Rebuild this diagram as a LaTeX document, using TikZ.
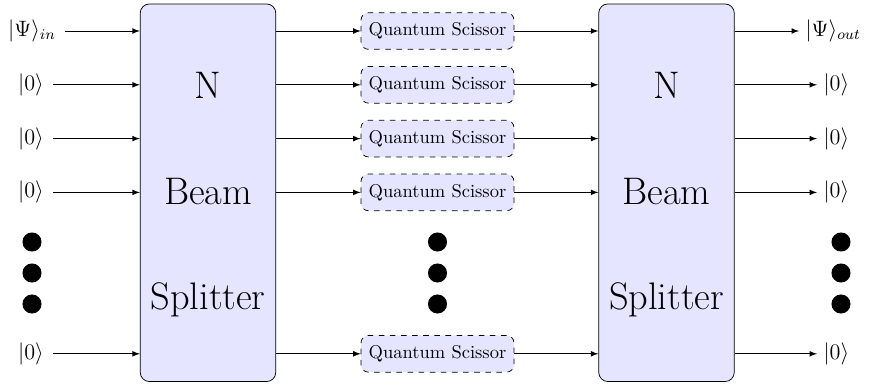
\documentclass[tikz,border=0pt]{standalone}
\usetikzlibrary{arrows.meta}
\begin{document}
\begin{tikzpicture}[x=0.54pt,y=-0.54pt,
  bsbox/.style={draw, fill=blue!10, rounded corners=5pt, minimum width=73.2pt, minimum height=203.9pt, inner sep=0pt},
  qsbox/.style={draw, dashed, fill=blue!10, rounded corners=4pt, minimum width=82.6pt, minimum height=19.8pt, inner sep=0pt, font=\normalsize},
  ket/.style={font=\large},
  bigtxt/.style={font=\huge, inner sep=0pt},
  dot/.style={circle, fill=black, minimum size=10.3pt, inner sep=0pt},
  conn/.style={-latex, shorten <=1.5pt}]
\useasboundingbox (0,0) rectangle (870,385);

% beam splitters
\node[bsbox] (bs1) at (208,192.75) {};
\node[bsbox] (bs2) at (666.5,192.75) {};
\node[bigtxt] (n1) at (208,85) {N};
\node[bigtxt] (b1) at (208,192) {Beam};
\node[bigtxt] (s1) at (208,300) {Splitter};
\node[bigtxt] (n2) at (666.5,85) {N};
\node[bigtxt] (b2) at (666.5,192) {Beam};
\node[bigtxt] (s2) at (666.5,300) {Splitter};

% input labels
\node[ket] (i1) at (32,31) {$|\Psi\rangle_{in}$};
\node[ket] (i2) at (31,84.8) {$|0\rangle$};
\node[ket] (i3) at (31,138.6) {$|0\rangle$};
\node[ket] (i4) at (31,192.4) {$|0\rangle$};
\node[ket] (i7) at (31,353.8) {$|0\rangle$};

% quantum scissors
\node[qsbox] (q1) at (437.5,31) {Quantum Scissor};
\node[qsbox] (q2) at (437.5,84.8) {Quantum Scissor};
\node[qsbox] (q3) at (437.5,138.6) {Quantum Scissor};
\node[qsbox] (q4) at (437.5,192.4) {Quantum Scissor};
\node[qsbox] (q7) at (437.5,353.8) {Quantum Scissor};

% output labels
\node[ket, anchor=west] (o1) at (799,31) {$|\Psi\rangle_{out}$};
\node[ket, anchor=west] (o2) at (817,84.8) {$|0\rangle$};
\node[ket, anchor=west] (o3) at (817,138.6) {$|0\rangle$};
\node[ket, anchor=west] (o4) at (817,192.4) {$|0\rangle$};
\node[ket, anchor=west] (o7) at (817,353.8) {$|0\rangle$};

% dots
\foreach \x/\n in {32/l,437.5/m,841/r}{
  \node[dot] (d\n1) at (\x,242) {};
  \node[dot] (d\n2) at (\x,273) {};
  \node[dot] (d\n3) at (\x,304) {};
}

% connectors
\foreach \k in {1,2,3,4,7}{
  \draw[conn] (i\k) -- (bs1.west |- i\k);
  \draw[-latex] (bs1.east |- q\k) -- (q\k);
  \draw[-latex] (q\k) -- (bs2.west |- q\k);
  \draw[-latex] (bs2.east |- o\k) -- (o\k);
}
\end{tikzpicture}
\end{document}
